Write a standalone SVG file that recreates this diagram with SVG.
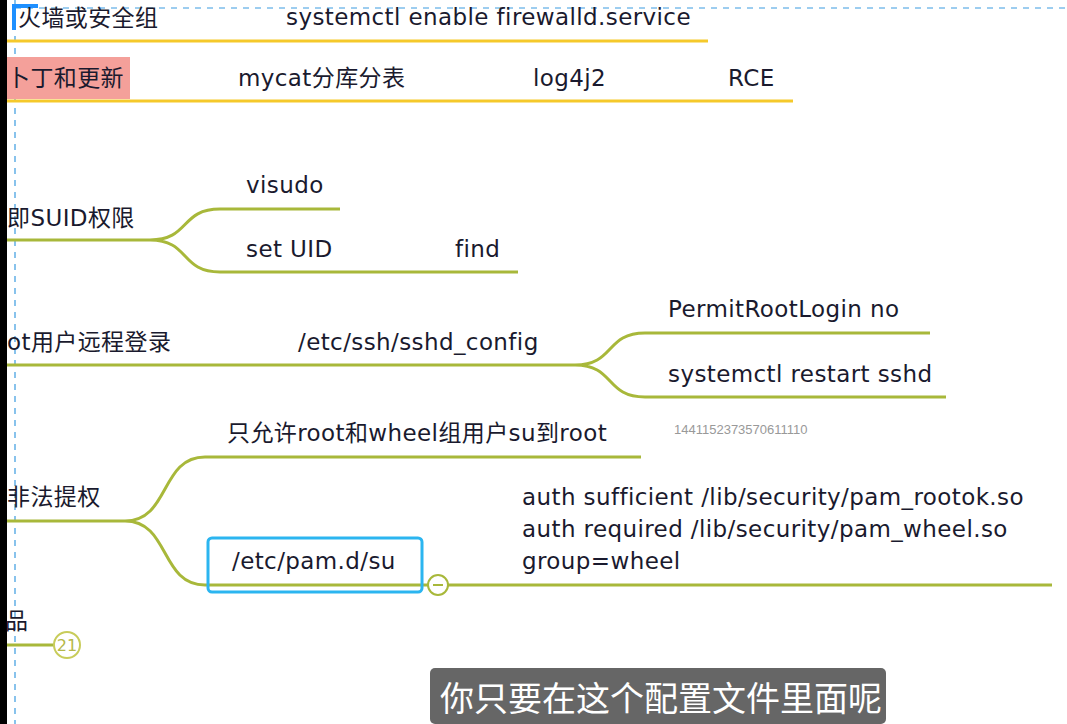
<svg xmlns="http://www.w3.org/2000/svg" width="1067" height="724" viewBox="0 0 1067 724">
<style>
text{font-family:"DejaVu Sans","Noto Sans CJK SC",sans-serif;font-size:23px;letter-spacing:0.4px;fill:#1a1a2e}
.y{stroke:#f5c92b;stroke-width:3;fill:none}
.g{stroke:#a8b83a;stroke-width:3;fill:none}
</style>
<rect width="1067" height="724" fill="#fff"/>
<rect x="0" y="0" width="7" height="724" fill="#000"/>
<line x1="15" y1="0" x2="15" y2="724" stroke="#3a9be0" stroke-width="1.2" stroke-dasharray="6,6"/>
<line x1="15" y1="8" x2="1067" y2="8" stroke="#3a9be0" stroke-width="1" stroke-dasharray="6,6"/>
<rect x="12" y="4" width="26" height="4" fill="#1e90ff"/>
<rect x="12" y="4" width="4" height="26" fill="#1e90ff"/>
<rect x="7" y="57" width="123" height="42" fill="#f4a09a"/>
<g id="connectors">
<path class="y" d="M7 41H708"/>
<path class="y" d="M7 101H793"/>
<path class="g" d="M7 240H150C190 240 180 209 220 209H340M150 240C190 240 180 272 220 272H518"/>
<path class="g" d="M7 365H575C615 365 605 333 645 333H930M575 365C615 365 605 397 645 397H946"/>
<path class="g" d="M7 521H125C170 521 160 457 205 457H641M125 521C170 521 160 585 205 585H428M448 585H1052"/>
<path class="g" d="M7 645H54"/>
</g>
<g id="n1"><text x="18" y="26">火墙或安全组</text><text x="286" y="25">systemctl enable firewalld.service</text></g>
<g id="n2"><text x="7" y="86">卜丁和更新</text><text x="238" y="86">mycat分库分表</text><text x="533" y="86">log4j2</text><text x="728" y="86">RCE</text></g>
<g id="n3"><text x="7" y="226">即SUID权限</text><text x="246" y="193">visudo</text><text x="246" y="257">set UID</text><text x="455" y="257">find</text></g>
<g id="n4"><text x="7" y="350">ot用户远程登录</text><text x="298" y="350">/etc/ssh/sshd_config</text><text x="668" y="317">PermitRootLogin no</text><text x="668" y="382">systemctl restart sshd</text></g>
<g id="n5"><text x="7" y="505">非法提权</text><text x="227" y="441">只允许root和wheel组用户su到root</text>
<text x="674" y="434" style="font-size:13px;letter-spacing:0;fill:#999;font-family:'Liberation Sans',sans-serif">1441152373570611110</text>
<rect x="208" y="538" width="214" height="54" rx="4" fill="none" stroke="#2bb5f0" stroke-width="3"/>
<text x="232" y="569">/etc/pam.d/su</text>
<circle cx="438" cy="585" r="10" fill="#fff" stroke="#a8b83a" stroke-width="2"/><line x1="433" y1="585" x2="443" y2="585" stroke="#a8b83a" stroke-width="2"/>
<text x="522" y="505">auth sufficient /lib/security/pam_rootok.so</text><text x="522" y="537">auth required /lib/security/pam_wheel.so</text><text x="522" y="569">group=wheel</text></g>
<g id="n6"><text x="5" y="629">品</text><circle cx="67" cy="645" r="13" fill="#fff" stroke="#c8cc5a" stroke-width="2"/><text x="67" y="651" text-anchor="middle" style="font-size:16px;letter-spacing:0;fill:#b5b84a">21</text></g>
<rect x="430" y="668" width="456" height="56" rx="5" fill="#666"/>
<text x="440" y="711" style="font-size:34px;letter-spacing:0;fill:#fff;font-family:'Noto Sans CJK SC',sans-serif">你只要在这个配置文件里面呢</text>
</svg>
